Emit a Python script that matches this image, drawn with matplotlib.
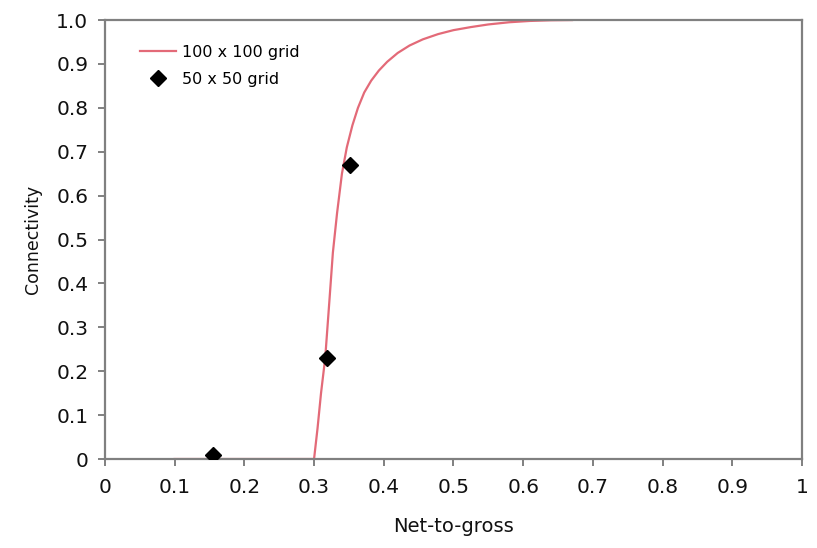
import matplotlib
matplotlib.use('Agg')
import matplotlib.pyplot as plt

# 100 x 100 grid curve
curve_x = [0.10, 0.20, 0.295, 0.300, 0.305, 0.310, 0.316, 0.322, 0.327, 0.333,
           0.340, 0.347, 0.355, 0.363, 0.372, 0.382, 0.393, 0.405, 0.420, 0.437,
           0.456, 0.478, 0.500, 0.525, 0.550, 0.580, 0.610, 0.640, 0.670]
curve_y = [0.0, 0.0, 0.0, 0.0, 0.07, 0.15, 0.23, 0.36, 0.47, 0.56,
           0.65, 0.71, 0.76, 0.80, 0.835, 0.862, 0.885, 0.905, 0.925, 0.942,
           0.956, 0.968, 0.977, 0.984, 0.990, 0.995, 0.998, 0.9995, 1.0]

# 50 x 50 grid points
pts_x = [0.155, 0.318, 0.352]
pts_y = [0.01, 0.23, 0.67]

xticks = [0, 0.1, 0.2, 0.3, 0.4, 0.5, 0.6, 0.7, 0.8, 0.9, 1.0]
xtick_labels = ['0', '0.1', '0.2', '0.3', '0.4', '0.5', '0.6', '0.7', '0.8', '0.9', '1']
yticks = [0, 0.1, 0.2, 0.3, 0.4, 0.5, 0.6, 0.7, 0.8, 0.9, 1.0]
ytick_labels = ['0', '0.1', '0.2', '0.3', '0.4', '0.5', '0.6', '0.7', '0.8', '0.9', '1.0']

plt.rcParams['font.family'] = ['DejaVu Sans']

fig = plt.figure(figsize=(8.17, 5.48), dpi=100)
ax = fig.add_axes([0.1285, 0.1624, 0.853, 0.801])

ax.plot(curve_x, curve_y, color='#e36a78', linewidth=1.6, label='100 x 100 grid', zorder=2)
ax.plot(pts_x, pts_y, linestyle='none', marker='D', markersize=8, color='black',
        label='50 x 50 grid', zorder=3)

ax.set_xlim(0, 1)
ax.set_ylim(0, 1)
ax.set_xticks(xticks)
ax.set_xticklabels(xtick_labels)
ax.set_yticks(yticks)
ax.set_yticklabels(ytick_labels)

for s in ax.spines.values():
    s.set_color('#808080')
    s.set_linewidth(1.6)
ax.tick_params(direction='out', length=5, width=1.4, color='#808080',
               labelsize=14.5, labelcolor='#111111')
ax.tick_params(axis='x', pad=9)
ax.tick_params(axis='y', pad=7)

ax.set_xlabel('Net-to-gross', fontsize=14, color='#111111', labelpad=14)
ax.set_ylabel('Connectivity', fontsize=12.5, color='#111111', labelpad=10)

ax.legend(loc='upper left', bbox_to_anchor=(0.029, 0.976), frameon=False,
          fontsize=11.5, handlelength=2.3, handletextpad=0.35, labelspacing=0.75)

fig.savefig('out.png', dpi=100)
